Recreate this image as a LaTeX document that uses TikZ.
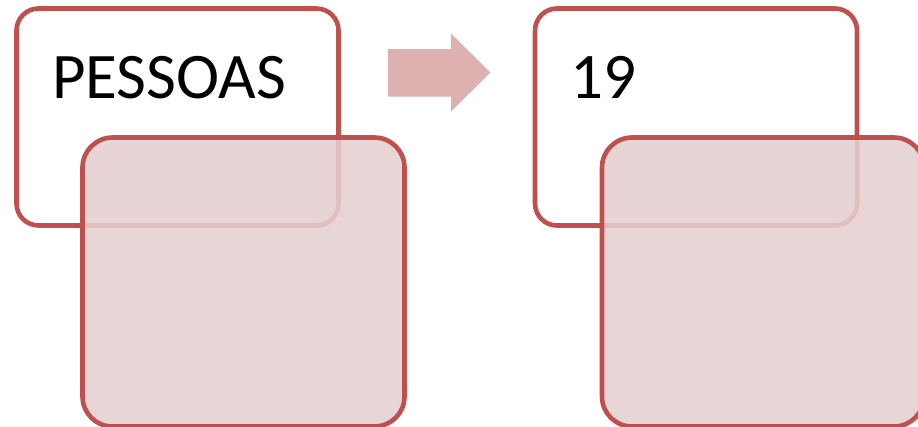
\documentclass[tikz,border=0pt]{standalone}
\usepackage{fontspec}
\setmainfont{Carlito}
\usepackage{tikz}
\usetikzlibrary{positioning}

\definecolor{cardline}{RGB}{192,80,77}
\definecolor{cardfill}{RGB}{229,207,207}
\definecolor{arrowfill}{RGB}{221,177,176}

\begin{document}
\begin{tikzpicture}[
  x=1pt, y=-1pt,
  font=\fontsize{65}{78}\selectfont,
  topcard/.style={draw=cardline, line width=4.6pt, fill=white, rounded corners=22pt,
    minimum width=322pt, minimum height=217pt, inner sep=0pt},
  subcard/.style={draw=cardline, line width=4.6pt, fill=cardfill, fill opacity=0.88,
    rounded corners=30pt, minimum width=322pt, minimum height=289pt, inner sep=0pt},
  cardtext/.style={anchor=base west, inner sep=0pt, text=black}
]
\clip (0,0) rectangle (918,426);
% first pair
\node[topcard] (top1) at (177.5,117) {};
\node[cardtext] (txt1) at (52,98) {PESSOAS};
\node[subcard] (sub1) at (243.5,282) {};
% arrow between the pairs
\fill[arrowfill] (388,49) -- (451,49) -- (451,33.5) -- (490.5,72.5)
  -- (451,111.5) -- (451,96.5) -- (388,96.5) -- cycle;
% second pair
\node[topcard] (top2) at (696,117) {};
\node[cardtext] (txt2) at (570.5,98) {19};
\node[subcard] (sub2) at (763,282) {};
\end{tikzpicture}
\end{document}
